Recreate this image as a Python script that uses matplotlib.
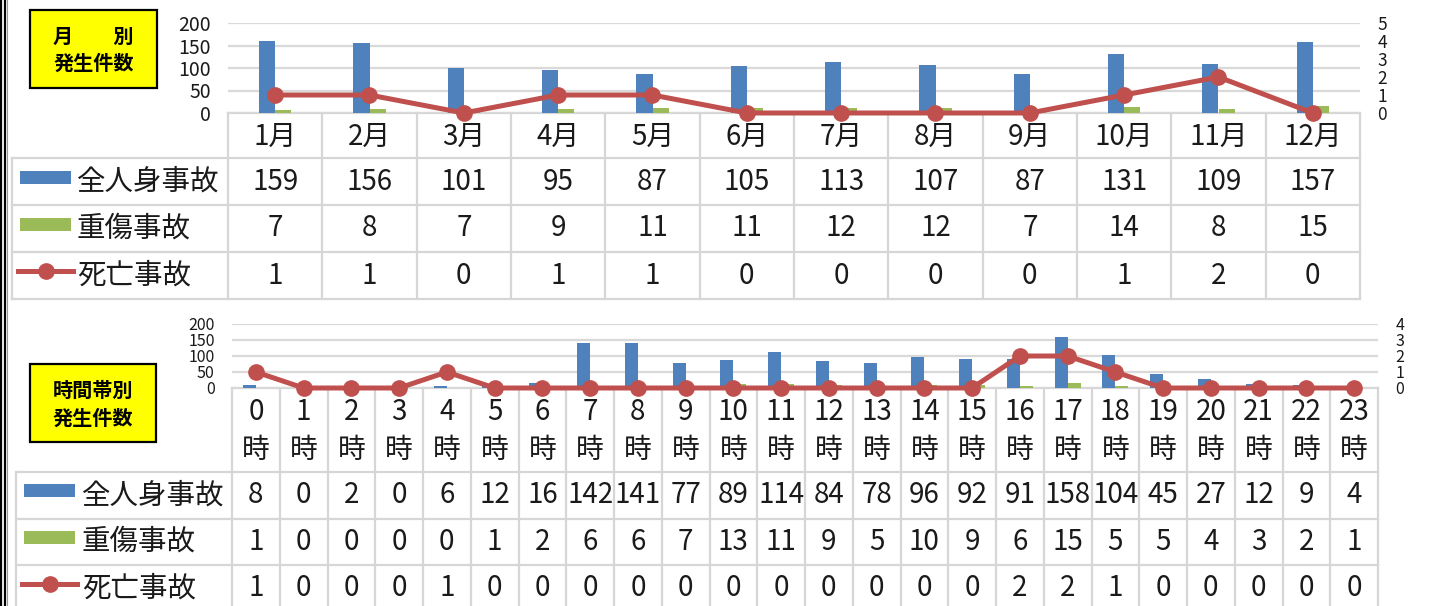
import numpy as np
import matplotlib
matplotlib.use("Agg")
import matplotlib.pyplot as plt
from matplotlib.patches import Rectangle
from matplotlib.lines import Line2D

plt.rcParams['font.family'] = ['Noto Sans CJK JP', 'DejaVu Sans']

# ---------------- data ----------------
series_names = ['全人身事故', '重傷事故', '死亡事故']

months = ['1月', '2月', '3月', '4月', '5月', '6月', '7月', '8月', '9月', '10月', '11月', '12月']
month_all = [159, 156, 101, 95, 87, 105, 113, 107, 87, 131, 109, 157]
month_serious = [7, 8, 7, 9, 11, 11, 12, 12, 7, 14, 8, 15]
month_fatal = [1, 1, 0, 1, 1, 0, 0, 0, 0, 1, 2, 0]

hours = ['0時', '1時', '2時', '3時', '4時', '5時', '6時', '7時', '8時', '9時', '10時', '11時',
         '12時', '13時', '14時', '15時', '16時', '17時', '18時', '19時', '20時', '21時', '22時', '23時']
hour_all = [8, 0, 2, 0, 6, 12, 16, 142, 141, 77, 89, 114, 84, 78, 96, 92, 91, 158, 104, 45, 27, 12, 9, 4]
hour_serious = [1, 0, 0, 0, 0, 1, 2, 6, 6, 7, 13, 11, 9, 5, 10, 9, 6, 15, 5, 5, 4, 3, 2, 1]
hour_fatal = [1, 0, 0, 0, 1, 0, 0, 0, 0, 0, 0, 0, 0, 0, 0, 0, 2, 2, 1, 0, 0, 0, 0, 0]

left_ticks = [0, 50, 100, 150, 200]

BLUE = '#4F81BD'
GREEN = '#9BBB59'
RED = '#C0504D'
GRID = '#D9D9D9'
TXT = '#1a1a1a'

W, H = 1438, 606
fig = plt.figure(figsize=(W / 100, H / 100), dpi=100)


def rect(x0, y0, x1, y1):
    return [x0 / W, 1 - y1 / H, (x1 - x0) / W, (y1 - y0) / H]


# pixel-space canvas for the table, boxes and frame
base = fig.add_axes([0, 0, 1, 1], zorder=0)
base.set_xlim(0, W)
base.set_ylim(H, 0)
base.axis('off')

# double frame on the left edge
base.plot([1, 1], [0, H], color='black', lw=1.6)
base.plot([4.5, 4.5], [0, H], color='black', lw=1.6)
base.plot([6.5, 6.5], [0, H], color='#999999', lw=0.8)


def panel(cats, v_all, v_ser, v_fat, rmax, box, box_lines, box_ys,
          px0, px1, ptop, pbot, tab_left, head_bot, row_h, bar_w,
          key_x0, key_x1, label_x, two_line, tick_fs, rtick_fs):
    n = len(cats)
    idx = np.arange(n)

    # ---- chart ----
    ax = fig.add_axes(rect(px0, ptop, px1, pbot), zorder=2)
    ax.patch.set_alpha(0)
    ax.bar(idx - bar_w / 2, v_all, bar_w, color=BLUE, zorder=2)
    ax.bar(idx + bar_w / 2, v_ser, bar_w, color=GREEN, zorder=2)
    ax.set_xlim(-0.5, n - 0.5)
    ax.set_ylim(0, 200)
    ax.set_yticks(left_ticks)
    ax.set_xticks([])
    ax.grid(axis='y', color=GRID, lw=1.6, zorder=0)
    ax.set_axisbelow(True)
    for s in ax.spines.values():
        s.set_visible(False)
    ax.tick_params(axis='y', length=0, pad=12.5, labelsize=tick_fs, labelcolor=TXT)

    ax2 = ax.twinx()
    ax2.set_zorder(3)
    ax2.patch.set_alpha(0)
    ax2.plot(idx, v_fat, color=RED, lw=3.6, marker='o', ms=11, clip_on=False, zorder=5)
    ax2.set_ylim(0, rmax)
    ax2.set_yticks(range(rmax + 1))
    for s in ax2.spines.values():
        s.set_visible(False)
    ax2.tick_params(axis='y', length=0, pad=12.5, labelsize=rtick_fs, labelcolor=TXT)

    # ---- table ----
    xs = np.linspace(px0, px1, n + 1)
    rows_y = [head_bot + k * row_h for k in range(4)]
    bottom = rows_y[-1]
    lc = '#D6D6D6'
    lw = 1.6
    base.plot([px0, px1], [pbot, pbot], color=lc, lw=lw)
    for y in rows_y:
        base.plot([tab_left, px1], [y, y], color=lc, lw=lw)
    base.plot([tab_left, tab_left], [head_bot, bottom], color=lc, lw=lw)
    for x in xs:
        base.plot([x, x], [pbot, bottom], color=lc, lw=lw)

    centers = (xs[:-1] + xs[1:]) / 2
    for c, lab in zip(centers, cats):
        if two_line:
            base.text(c, pbot + 24, lab[:-1], ha='center', va='center', fontsize=20, color=TXT)
            base.text(c, pbot + 62, lab[-1], ha='center', va='center', fontsize=20, color=TXT)
        else:
            base.text(c, (pbot + head_bot) / 2 + 1, lab, ha='center', va='center', fontsize=20, color=TXT)

    for r, vals in enumerate([v_all, v_ser, v_fat]):
        yc = rows_y[r] + row_h / 2
        for c, v in zip(centers, vals):
            base.text(c, yc, str(v), ha='center', va='center', fontsize=20, color=TXT)
        base.text(label_x, yc, series_names[r], ha='left', va='center', fontsize=20.5, color=TXT)
        ky = yc - 4.5
        if r < 2:
            base.add_patch(Rectangle((key_x0, ky - 6.5), key_x1 - key_x0, 13,
                                     facecolor=[BLUE, GREEN][r], edgecolor='none'))
        else:
            base.add_line(Line2D([key_x0 - 2, key_x1 + 2], [ky, ky], color=RED, lw=3.6))
            base.plot([(key_x0 + key_x1) / 2], [ky], 'o', color=RED, ms=11)

    # ---- title box ----
    bx0, by0, bx1, by1 = box
    base.add_patch(Rectangle((bx0, by0), bx1 - bx0, by1 - by0, facecolor='#FFFF00',
                             edgecolor='black', lw=1.6))
    for t, y in zip(box_lines, box_ys):
        base.text((bx0 + bx1) / 2, y, t, ha='center', va='center', fontsize=14.5,
                  fontweight='bold', color='black')


panel(months, month_all, month_serious, month_fatal, 5,
      (30, 10, 157, 88), ['月\u3000\u3000別', '発生件数'], [36, 63],
      228, 1360, 23, 113, 12, 158, 47, 0.17,
      20, 71, 77, False, 14, 12.5)

panel(hours, hour_all, hour_serious, hour_fatal, 4,
      (30, 364, 156, 442), ['時間帯別', '発生件数'], [390, 418],
      232, 1378, 324, 388, 16, 472, 46.5, 0.27,
      24, 75, 82, True, 11.5, 11.5)

fig.savefig('out.png', dpi=100)
